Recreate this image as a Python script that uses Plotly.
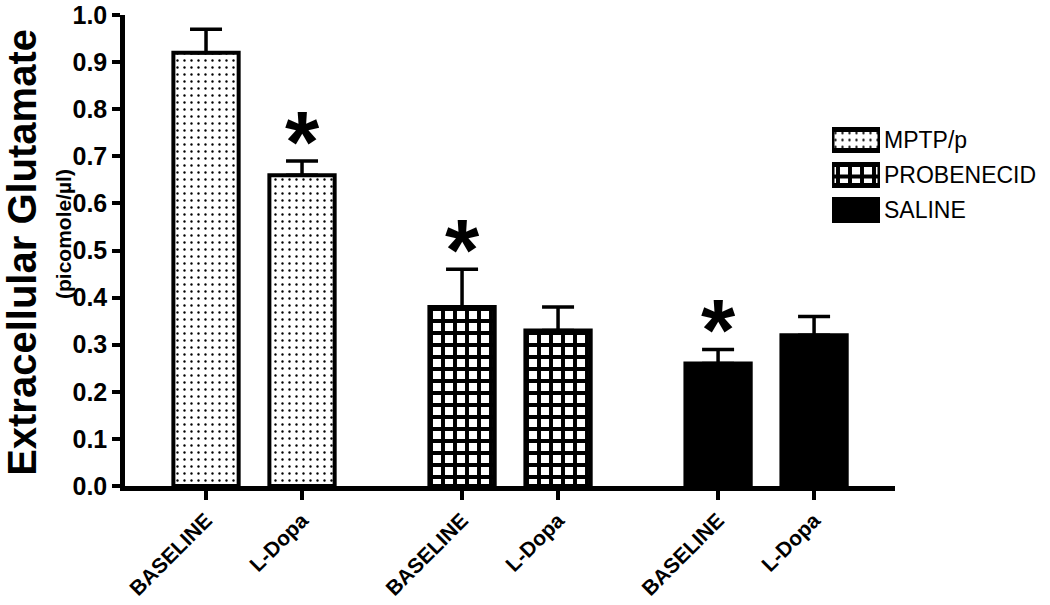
import plotly.graph_objects as go

# ---- data ----
groups = ["MPTP/p", "PROBENECID", "SALINE"]
conditions = ["BASELINE", "L-Dopa"]
means = {
    "MPTP/p": [0.92, 0.66],
    "PROBENECID": [0.38, 0.33],
    "SALINE": [0.26, 0.32],
}
sems = {
    "MPTP/p": [0.05, 0.03],
    "PROBENECID": [0.08, 0.05],
    "SALINE": [0.03, 0.04],
}
significant = {
    "MPTP/p": [False, True],
    "PROBENECID": [True, False],
    "SALINE": [True, False],
}
y_ticks = [0.0, 0.1, 0.2, 0.3, 0.4, 0.5, 0.6, 0.7, 0.8, 0.9, 1.0]

# ---- styles ----
FONT = "Liberation Sans, Arial, Helvetica, sans-serif"
patterns = {
    "MPTP/p": dict(shape=".", fgcolor="black", bgcolor="white", size=7, solidity=0.09),
    "PROBENECID": dict(shape="+", fgcolor="black", bgcolor="white", size=12, solidity=0.55),
    "SALINE": dict(shape="", fgcolor="black", bgcolor="black"),
}
fill = {"MPTP/p": "white", "PROBENECID": "white", "SALINE": "black"}
GROUP_GAP = 2.667

fig = go.Figure()
tickvals, ticktext = [], []
for g, name in enumerate(groups):
    xs = [g * GROUP_GAP + i for i in range(len(conditions))]
    tickvals += xs
    ticktext += conditions
    fig.add_trace(go.Bar(
        x=xs, y=means[name], name=name, width=0.68,
        marker=dict(color=fill[name], pattern=patterns[name],
                    line=dict(color="black", width=4)),
        error_y=dict(type="data", array=sems[name], arrayminus=[0] * len(xs),
                     symmetric=False, color="black", thickness=3.5, width=16),
        showlegend=False,
    ))
    for x, m, s, sig in zip(xs, means[name], sems[name], significant[name]):
        if sig:
            fig.add_annotation(x=x, y=m + s, xref="x", yref="y", text="<b>*</b>",
                               showarrow=False, xanchor="center", yanchor="bottom",
                               yshift=-32,
                               font=dict(family=FONT, size=88, color="black"))

# ---- custom legend (horizontal bars on a small auxiliary axis) ----
for g in groups:
    fig.add_trace(go.Bar(
        y=[g], x=[1], orientation="h", xaxis="x2", yaxis="y2",
        width=0.6, showlegend=False, hoverinfo="skip",
        marker=dict(color=fill[g], pattern=patterns[g],
                    line=dict(color="black", width=5)),
    ))
    fig.add_annotation(x=1, y=g, xref="x2", yref="y2", text=g, showarrow=False,
                       xanchor="left", yanchor="middle", xshift=2,
                       font=dict(family=FONT, size=23, color="black"))

# ---- axis titles ----
fig.add_annotation(x=-0.112, y=0.497, xref="paper", yref="paper",
                   xanchor="center", yanchor="middle",
                   text="<b>Extracellular Glutamate</b>", textangle=-90,
                   showarrow=False, font=dict(family=FONT, size=40, color="black"))
fig.add_annotation(x=-0.0674, y=0.535, xref="paper", yref="paper",
                   xanchor="center", yanchor="middle",
                   text="<b>(picomole/µl)</b>", textangle=-90,
                   showarrow=False, font=dict(family=FONT, size=21, color="black"))

PW = 920.0
fig.update_layout(
    template="none",
    width=1050, height=605,
    margin=dict(l=125, r=5, t=15, b=119),
    paper_bgcolor="white", plot_bgcolor="white",
    barmode="overlay",
    xaxis=dict(domain=[0, 770 / PW], range=[-0.844, 7.177], automargin=False,
               tickmode="array", tickvals=tickvals, ticktext=ticktext,
               tickangle=-45, ticks="outside", ticklen=9, tickwidth=3.5,
               tickcolor="black", showline=True, linewidth=4.5, linecolor="black",
               showgrid=False, zeroline=False,
               tickfont=dict(family=FONT, size=21, color="black", weight="bold")),
    yaxis=dict(range=[0, 1], tickmode="array", tickvals=y_ticks, automargin=False,
               tickformat=".1f", ticks="outside", ticklen=8, tickwidth=3.5,
               tickcolor="black", showline=True, linewidth=4.5, linecolor="black",
               showgrid=False, zeroline=False,
               tickfont=dict(family=FONT, size=25, color="black", weight="bold")),
    xaxis2=dict(domain=[(832 - 125) / PW, (880 - 125) / PW], range=[0, 1],
                visible=False, anchor="y2", automargin=False),
    yaxis2=dict(domain=[(486 - 227.5) / 471, (486 - 122.5) / 471],
                autorange="reversed", visible=False, anchor="x2",
                type="category", categoryorder="array", categoryarray=groups,
                automargin=False),
    showlegend=False,
)

fig.write_html("out.html", config={"displayModeBar": False},
               post_script="document.body.style.margin='0px';document.body.style.overflow='hidden';")
